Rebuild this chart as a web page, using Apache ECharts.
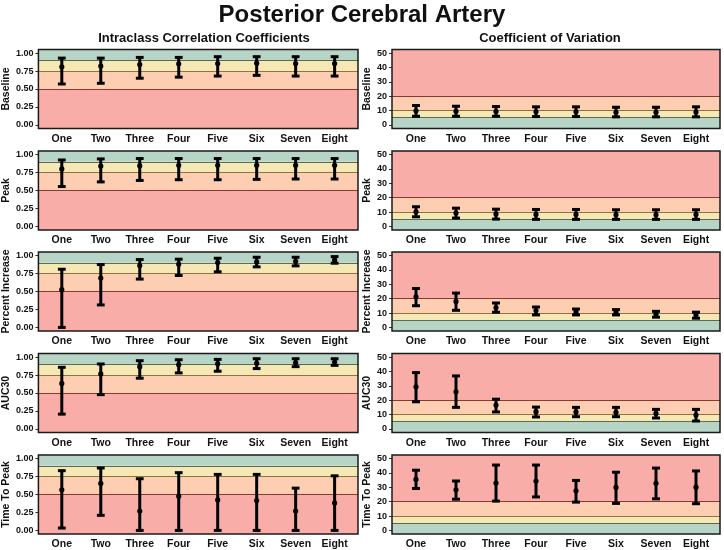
<!DOCTYPE html>
<html><head><meta charset="utf-8">
<script src="https://cdn.jsdelivr.net/npm/echarts@6/dist/echarts.min.js"></script>
<style>html,body{margin:0;padding:0;background:#fff}#c{width:724px;height:550px}</style>
</head><body><div id="c"></div>
<script>
const categories = ['One','Two','Three','Four','Five','Six','Seven','Eight'];
const metrics = ['Baseline','Peak','Percent Increase','AUC30','Time To Peak'];
const iccTicks = [0, 0.25, 0.5, 0.75, 1];
const cvTicks = [0, 10, 20, 30, 40, 50];
const iccBreaks = [0.5, 0.75, 0.9];
const cvBreaks = [5, 10, 20];

// ICC (left column)
const iccBaselineMid  = [0.81, 0.82, 0.84, 0.85, 0.855, 0.86, 0.855, 0.855];
const iccBaselineLow  = [0.57, 0.58, 0.65, 0.665, 0.68, 0.69, 0.68, 0.68];
const iccBaselineHigh = [0.93, 0.93, 0.94, 0.94, 0.95, 0.95, 0.95, 0.95];
const iccPeakMid  = [0.80, 0.84, 0.845, 0.85, 0.85, 0.85, 0.85, 0.85];
const iccPeakLow  = [0.555, 0.62, 0.64, 0.65, 0.65, 0.655, 0.66, 0.66];
const iccPeakHigh = [0.925, 0.94, 0.945, 0.945, 0.945, 0.945, 0.945, 0.945];
const iccPctMid  = [0.525, 0.687, 0.862, 0.88, 0.903, 0.912, 0.92, 0.94];
const iccPctLow  = [0.0, 0.313, 0.673, 0.723, 0.774, 0.843, 0.857, 0.894];
const iccPctHigh = [0.81, 0.875, 0.945, 0.95, 0.963, 0.977, 0.977, 0.986];
const iccAucMid  = [0.633, 0.766, 0.867, 0.894, 0.908, 0.913, 0.922, 0.93];
const iccAucLow  = [0.206, 0.477, 0.706, 0.78, 0.803, 0.84, 0.867, 0.885];
const iccAucHigh = [0.858, 0.904, 0.95, 0.963, 0.968, 0.977, 0.977, 0.977];
const iccTtpMid  = [0.565, 0.654, 0.27, 0.477, 0.425, 0.416, 0.27, 0.383];
const iccTtpLow  = [0.033, 0.21, 0.0, 0.0, 0.0, 0.0, 0.0, 0.0];
const iccTtpHigh = [0.832, 0.869, 0.72, 0.804, 0.78, 0.78, 0.589, 0.76];

// CV (right column)
const cvBaselineMid  = [9.8, 9.5, 9.3, 9.1, 9.1, 8.8, 8.8, 9.0];
const cvBaselineLow  = [6.0, 6.0, 6.0, 5.8, 5.8, 5.6, 5.6, 5.6];
const cvBaselineHigh = [13.5, 13.0, 12.8, 12.6, 12.6, 12.3, 12.3, 12.6];
const cvPeakMid  = [10.2, 9.3, 8.6, 8.3, 8.3, 8.1, 8.1, 8.3];
const cvPeakLow  = [6.7, 5.8, 5.1, 4.9, 4.9, 4.9, 4.9, 4.9];
const cvPeakHigh = [13.7, 12.7, 12.0, 11.8, 11.8, 11.6, 11.6, 11.6];
const cvPctMid  = [21.3, 18.1, 13.8, 11.7, 10.8, 10.6, 9.2, 8.7];
const cvPctLow  = [15.1, 11.9, 10.6, 8.7, 8.7, 8.7, 7.1, 6.4];
const cvPctHigh = [27.1, 23.9, 17.0, 14.2, 12.8, 12.4, 11.2, 10.6];
const cvAucMid  = [29.3, 25.8, 16.6, 12.0, 11.8, 11.5, 10.8, 9.6];
const cvAucLow  = [18.9, 15.0, 11.8, 8.3, 8.5, 8.5, 7.6, 5.5];
const cvAucHigh = [39.2, 36.9, 20.7, 15.2, 15.0, 15.0, 13.6, 13.6];
const cvTtpMid  = [35.5, 28.3, 33.0, 34.4, 27.6, 29.9, 32.8, 30.1];
const cvTtpLow  = [29.2, 21.7, 20.4, 23.3, 19.7, 18.8, 22.0, 18.6];
const cvTtpHigh = [41.9, 34.4, 45.5, 45.5, 34.8, 40.5, 43.4, 41.4];

const iccSets = [
  [iccBaselineMid, iccBaselineLow, iccBaselineHigh],
  [iccPeakMid, iccPeakLow, iccPeakHigh],
  [iccPctMid, iccPctLow, iccPctHigh],
  [iccAucMid, iccAucLow, iccAucHigh],
  [iccTtpMid, iccTtpLow, iccTtpHigh]
];
const cvSets = [
  [cvBaselineMid, cvBaselineLow, cvBaselineHigh],
  [cvPeakMid, cvPeakLow, cvPeakHigh],
  [cvPctMid, cvPctLow, cvPctHigh],
  [cvAucMid, cvAucLow, cvAucHigh],
  [cvTtpMid, cvTtpLow, cvTtpHigh]
];

const FONT = 'Liberation Sans, Arial, sans-serif';
const TXT = '#111';
const C_GREEN = '#b7d5c7', C_YELLOW = '#f6e8b4', C_ORANGE = '#fdceb2', C_RED = '#f8ada8';
const L_GREEN = '#5e6a4e', L_YELLOW = '#8e7440', L_RED = '#8a3a30';

const rowTops = [49.5, 151, 252, 353.5, 455];
const rowH = 79;
const colLeft = [36, 392];
const colW = [322, 328];

const grids = [], xAxes = [], yAxes = [], series = [];

function renderItem(params, api) {
  const x = api.value(0), mid = api.value(1), lo = api.value(2), hi = api.value(3);
  const pLo = api.coord([x, lo]), pHi = api.coord([x, hi]), pMid = api.coord([x, mid]);
  const capL = api.coord([x - 0.1, lo])[0], capR = api.coord([x + 0.1, lo])[0];
  const st = { stroke: '#000', lineWidth: 3 };
  return { type: 'group', children: [
    { type: 'line', shape: { x1: pLo[0], y1: pLo[1], x2: pHi[0], y2: pHi[1] }, style: st },
    { type: 'line', shape: { x1: capL, y1: pLo[1], x2: capR, y2: pLo[1] }, style: st },
    { type: 'line', shape: { x1: capL, y1: pHi[1], x2: capR, y2: pHi[1] }, style: st },
    { type: 'circle', shape: { cx: pMid[0], cy: pMid[1], r: 2.6 }, style: { fill: '#000' } }
  ]};
}

for (let col = 0; col < 2; col++) {
  for (let r = 0; r < 5; r++) {
    const idx = grids.length;
    const isIcc = col === 0;
    const yMin = isIcc ? -0.05 : -2.5, yMax = isIcc ? 1.05 : 52.5;
    grids.push({ left: colLeft[col], top: rowTops[r], width: colW[col], height: rowH,
      show: true, z: 10, backgroundColor: 'transparent', borderColor: '#1a1a1a', borderWidth: 1.5 });
    xAxes.push({ type: 'value', gridIndex: idx, min: 0.4, max: 8.6,
      axisLine: { show: false }, splitLine: { show: false },
      axisTick: { show: true, length: 3, lineStyle: { color: '#333' }, customValues: [1,2,3,4,5,6,7,8] },
      axisLabel: { customValues: [1,2,3,4,5,6,7,8], margin: 5, fontFamily: FONT, fontWeight: 'bold', fontSize: 10.5, color: TXT,
        formatter: v => categories[Math.round(v) - 1] || '' } });
    yAxes.push({ type: 'value', gridIndex: idx, min: yMin, max: yMax,
      name: metrics[r], nameLocation: 'middle', nameGap: isIcc ? 22.5 : 14,
      nameTextStyle: { fontFamily: FONT, fontWeight: 'bold', fontSize: 10.5, color: TXT },
      axisLine: { show: false }, splitLine: { show: false },
      axisTick: { show: true, length: 3, lineStyle: { color: '#333' }, customValues: isIcc ? iccTicks : cvTicks },
      axisLabel: { customValues: isIcc ? iccTicks : cvTicks, margin: 5, fontFamily: FONT, fontWeight: 'bold', fontSize: 9, color: TXT,
        formatter: v => isIcc ? v.toFixed(2) : String(Math.round(v)) } });
    const br = isIcc ? iccBreaks : cvBreaks;
    const bandColors = isIcc ? [C_RED, C_ORANGE, C_YELLOW, C_GREEN] : [C_GREEN, C_YELLOW, C_ORANGE, C_RED];
    const lineColors = isIcc ? [L_RED, L_YELLOW, L_GREEN] : [L_GREEN, L_YELLOW, L_RED];
    const edges = [yMin, br[0], br[1], br[2], yMax];
    const areas = [];
    for (let k = 0; k < 4; k++) {
      areas.push([{ yAxis: edges[k], itemStyle: { color: bandColors[k], opacity: 1 } }, { yAxis: edges[k + 1] }]);
    }
    series.push({ type: 'line', xAxisIndex: idx, yAxisIndex: idx, data: [], z: 1, silent: true,
      markArea: { silent: true, data: areas },
      markLine: { silent: true, symbol: 'none', label: { show: false },
        data: br.map((b, k) => ({ yAxis: b, lineStyle: { color: lineColors[k], width: 1, type: 'solid' } })) } });
    const sets = isIcc ? iccSets[r] : cvSets[r];
    const data = categories.map((c, i) => [i + 1, sets[0][i], sets[1][i], sets[2][i]]);
    series.push({ type: 'custom', xAxisIndex: idx, yAxisIndex: idx, z: 5, clip: false,
      renderItem: renderItem, encode: { x: 0, y: [1, 2, 3] }, data: data });
  }
}

const chart = echarts.init(document.getElementById('c'), null, { renderer: 'canvas' });
chart.setOption({
  animation: false,
  backgroundColor: '#fff',
  title: [
    { text: 'Posterior Cerebral Artery', left: 'center', top: -2,
      textStyle: { fontFamily: FONT, fontWeight: 'bold', fontSize: 24, color: TXT } },
    { text: 'Intraclass Correlation Coefficients', left: 199, top: 27, textAlign: 'center',
      textStyle: { fontFamily: FONT, fontWeight: 'bold', fontSize: 13, color: TXT } },
    { text: 'Coefficient of Variation', left: 545, top: 27, textAlign: 'center',
      textStyle: { fontFamily: FONT, fontWeight: 'bold', fontSize: 13, color: TXT } }
  ],
  grid: grids, xAxis: xAxes, yAxis: yAxes, series: series
});
</script></body></html>
